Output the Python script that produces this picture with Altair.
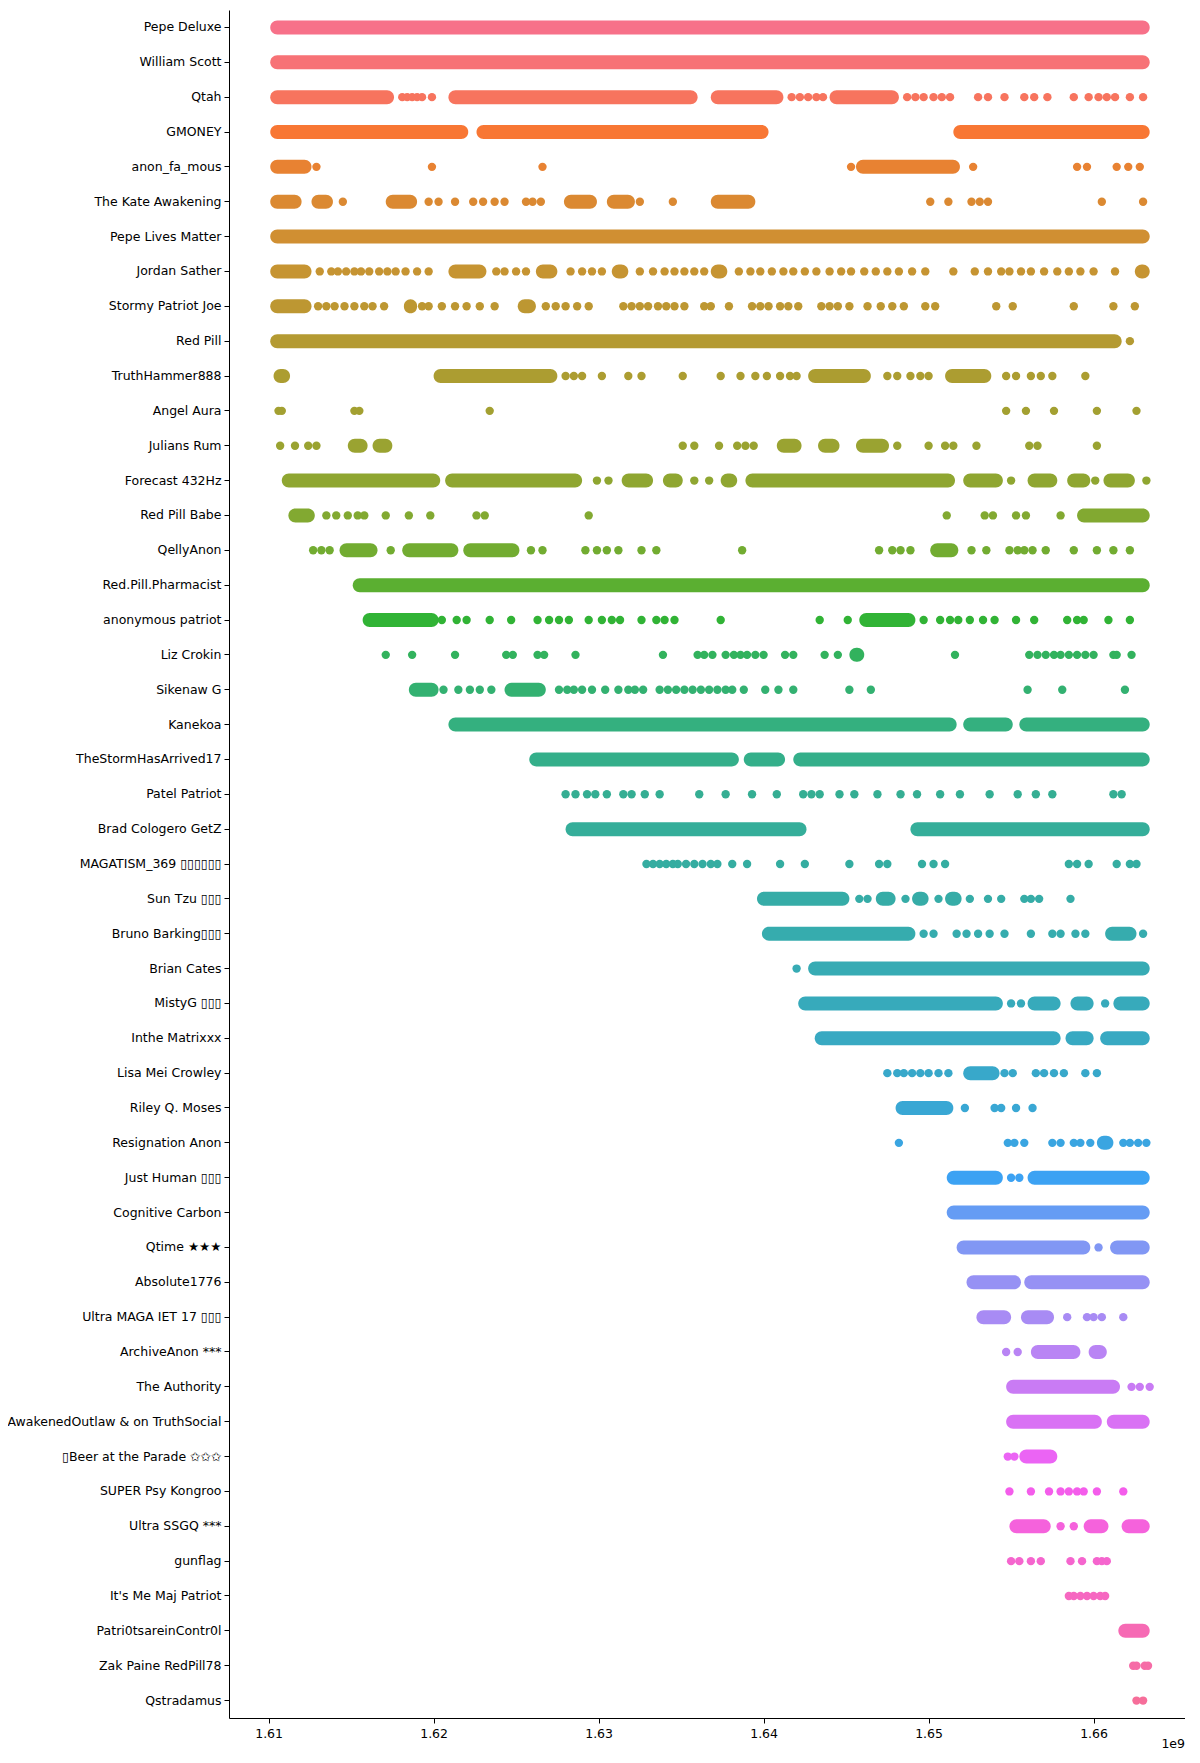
import math
import altair as alt
import pandas as pd

CHANNELS = [
    "Pepe Deluxe", "William Scott", "Qtah", "GMONEY", "anon_fa_mous",
    "The Kate Awakening", "Pepe Lives Matter", "Jordan Sather", "Stormy Patriot Joe",
    "Red Pill", "TruthHammer888", "Angel Aura", "Julians Rum", "Forecast 432Hz",
    "Red Pill Babe", "QellyAnon", "Red.Pill.Pharmacist", "anonymous patriot",
    "Liz Crokin", "Sikenaw G", "Kanekoa", "TheStormHasArrived17", "Patel Patriot",
    "Brad Cologero GetZ", "MAGATISM_369 \u25af\u25af\u25af\u25af\u25af\u25af",
    "Sun Tzu \u25af\u25af\u25af", "Bruno Barking\u25af\u25af\u25af", "Brian Cates",
    "MistyG \u25af\u25af\u25af", "Inthe Matrixxx", "Lisa Mei Crowley", "Riley Q. Moses",
    "Resignation Anon", "Just Human \u25af\u25af\u25af", "Cognitive Carbon",
    "Qtime \u2605\u2605\u2605", "Absolute1776", "Ultra MAGA IET 17 \u25af\u25af\u25af",
    "ArchiveAnon ***", "The Authority", "AwakenedOutlaw & on TruthSocial",
    "\u25afBeer at the Parade \u2729\u2729\u2729", "SUPER Psy Kongroo", "Ultra SSGQ ***",
    "gunflag", "It's Me Maj Patriot", "Patri0tsareinContr0l", "Zak Paine RedPill78",
    "Qstradamus",
]

# dense runs of posts (start, end) per channel, in units of 1e9 seconds
SEGMENTS = [
    [(1.6101, 1.6634)],
    [(1.6101, 1.6634)],
    [(1.6101, 1.6176), (1.6209, 1.6360), (1.6368, 1.6412), (1.6440, 1.6482)],
    [(1.6101, 1.6221), (1.6226, 1.6403), (1.6515, 1.6634)],
    [(1.6101, 1.6126), (1.6456, 1.6519)],
    [(1.6101, 1.6120), (1.6126, 1.6139), (1.6171, 1.6190), (1.6279, 1.6299),
     (1.6305, 1.6322), (1.6368, 1.6395)],
    [(1.6101, 1.6634)],
    [(1.6101, 1.6126), (1.6209, 1.6232), (1.6262, 1.6275), (1.6308, 1.6318),
     (1.6368, 1.6378), (1.6625, 1.6634)],
    [(1.6101, 1.6126), (1.6182, 1.6190), (1.6251, 1.6262)],
    [(1.6101, 1.6617)],
    [(1.6103, 1.6113), (1.6200, 1.6275), (1.6427, 1.6465), (1.6510, 1.6538)],
    [],
    [(1.6148, 1.6160), (1.6163, 1.6175), (1.6408, 1.6423), (1.6433, 1.6446),
     (1.6456, 1.6476)],
    [(1.6108, 1.6204), (1.6207, 1.6290), (1.6314, 1.6333), (1.6339, 1.6351),
     (1.6374, 1.6384), (1.6389, 1.6516), (1.6521, 1.6545), (1.6560, 1.6578),
     (1.6584, 1.6598), (1.6606, 1.6625)],
    [(1.6112, 1.6128), (1.6590, 1.6634)],
    [(1.6143, 1.6166), (1.6181, 1.6215), (1.6218, 1.6252), (1.6501, 1.6518)],
    [(1.6151, 1.6634)],
    [(1.6157, 1.6203), (1.6458, 1.6492)],
    [(1.6452, 1.6461)],
    [(1.6185, 1.6203), (1.6243, 1.6268)],
    [(1.6209, 1.6517), (1.6521, 1.6551), (1.6555, 1.6634)],
    [(1.6258, 1.6385), (1.6388, 1.6413), (1.6418, 1.6634)],
    [],
    [(1.6280, 1.6426), (1.6489, 1.6634)],
    [],
    [(1.6396, 1.6452), (1.6468, 1.6480), (1.6490, 1.6500), (1.6510, 1.6520)],
    [(1.6399, 1.6492), (1.6607, 1.6626)],
    [(1.6427, 1.6634)],
    [(1.6421, 1.6545), (1.6560, 1.6580), (1.6586, 1.6600), (1.6612, 1.6634)],
    [(1.6431, 1.6580), (1.6583, 1.6600), (1.6604, 1.6634)],
    [(1.6521, 1.6543)],
    [(1.6480, 1.6515)],
    [(1.6602, 1.6612)],
    [(1.6511, 1.6545), (1.6560, 1.6634)],
    [(1.6511, 1.6634)],
    [(1.6517, 1.6598), (1.6610, 1.6634)],
    [(1.6523, 1.6556), (1.6558, 1.6634)],
    [(1.6529, 1.6550), (1.6556, 1.6576)],
    [(1.6562, 1.6592), (1.6597, 1.6608)],
    [(1.6547, 1.6616)],
    [(1.6547, 1.6605), (1.6608, 1.6634)],
    [(1.6555, 1.6578)],
    [],
    [(1.6549, 1.6574), (1.6594, 1.6609), (1.6617, 1.6634)],
    [],
    [],
    [(1.6615, 1.6634)],
    [],
    [],
]

# single, scattered posts per channel, in units of 1e9 seconds
POINTS = [
    [],
    [],
    [1.6181, 1.6184, 1.6187, 1.6190, 1.6193, 1.6199,
     1.6417, 1.6422, 1.6427, 1.6432, 1.6436, 1.6487, 1.6492, 1.6497, 1.6503,
     1.6508, 1.6513, 1.6530, 1.6536, 1.6546, 1.6558, 1.6564, 1.6572, 1.6588, 1.6597,
     1.6603, 1.6608, 1.6613, 1.6622, 1.6630],
    [],
    [1.6129, 1.6199, 1.6266, 1.6453, 1.6527, 1.6590, 1.6596, 1.6614, 1.6621, 1.6628],
    [1.6145, 1.6197, 1.6203, 1.6213, 1.6224, 1.6230, 1.6237, 1.6243, 1.6256, 1.6260,
     1.6265, 1.6325, 1.6345, 1.6501, 1.6512, 1.6526, 1.6531, 1.6536, 1.6605, 1.6630],
    [],
    [1.6131, 1.6138, 1.6142, 1.6147, 1.6152, 1.6156, 1.6161, 1.6167, 1.6172, 1.6177,
     1.6183, 1.6190, 1.6197, 1.6238, 1.6243, 1.6250, 1.6256, 1.6283, 1.6290, 1.6296,
     1.6302, 1.6325, 1.6333, 1.6340, 1.6346, 1.6352, 1.6358, 1.6364, 1.6385, 1.6392,
     1.6398, 1.6405, 1.6412, 1.6418, 1.6425, 1.6432, 1.6440, 1.6447, 1.6453, 1.6461,
     1.6468, 1.6475, 1.6482, 1.6490, 1.6498, 1.6515, 1.6528, 1.6536, 1.6544, 1.6549,
     1.6556, 1.6562, 1.6570, 1.6578, 1.6585, 1.6592, 1.6600, 1.6613],
    [1.6130, 1.6135, 1.6140, 1.6146, 1.6152, 1.6158, 1.6163, 1.6170, 1.6193, 1.6197,
     1.6205, 1.6213, 1.6220, 1.6228, 1.6237, 1.6268, 1.6274, 1.6280, 1.6287, 1.6294,
     1.6315, 1.6320, 1.6325, 1.6330, 1.6336, 1.6341, 1.6346, 1.6352, 1.6364, 1.6368,
     1.6379, 1.6393, 1.6398, 1.6403, 1.6410, 1.6415, 1.6421, 1.6435, 1.6440, 1.6445,
     1.6452, 1.6463, 1.6471, 1.6478, 1.6485, 1.6498, 1.6504, 1.6541, 1.6551, 1.6588,
     1.6612, 1.6625],
    [1.6622],
    [1.6280, 1.6285, 1.6290, 1.6302, 1.6318, 1.6326, 1.6351, 1.6374, 1.6386, 1.6395,
     1.6402, 1.6410, 1.6416, 1.6420, 1.6475, 1.6481, 1.6489, 1.6495, 1.6500, 1.6547,
     1.6553, 1.6562, 1.6568, 1.6575, 1.6595],
    [1.6106, 1.6108, 1.6152, 1.6155, 1.6234, 1.6547, 1.6559, 1.6576, 1.6602, 1.6626],
    [1.6107, 1.6116, 1.6124, 1.6129, 1.6351, 1.6358, 1.6373, 1.6384, 1.6389, 1.6394,
     1.6481, 1.6500, 1.6510, 1.6515, 1.6529, 1.6561, 1.6566, 1.6602],
    [1.6299, 1.6306, 1.6358, 1.6367, 1.6550, 1.6601, 1.6632],
    [1.6135, 1.6141, 1.6148, 1.6154, 1.6158, 1.6171, 1.6185, 1.6198, 1.6226, 1.6231,
     1.6294, 1.6511, 1.6534, 1.6539, 1.6553, 1.6559, 1.6580],
    [1.6127, 1.6132, 1.6137, 1.6174, 1.6259, 1.6266, 1.6292, 1.6299, 1.6305, 1.6312,
     1.6326, 1.6335, 1.6387, 1.6470, 1.6478, 1.6483, 1.6489, 1.6526, 1.6535, 1.6549,
     1.6554, 1.6558, 1.6563, 1.6571, 1.6588, 1.6602, 1.6612, 1.6622],
    [],
    [1.6205, 1.6214, 1.6220, 1.6234, 1.6247, 1.6263, 1.6270, 1.6276, 1.6282, 1.6294,
     1.6302, 1.6308, 1.6313, 1.6326, 1.6335, 1.6340, 1.6346, 1.6374, 1.6434, 1.6451,
     1.6497, 1.6507, 1.6513, 1.6518, 1.6525, 1.6533, 1.6540, 1.6553, 1.6564, 1.6584,
     1.6590, 1.6594, 1.6609, 1.6622],
    [1.6171, 1.6187, 1.6213, 1.6244, 1.6248, 1.6263, 1.6267, 1.6286, 1.6339, 1.6360,
     1.6364, 1.6369, 1.6377, 1.6382, 1.6386, 1.6390, 1.6395, 1.6400, 1.6413, 1.6418,
     1.6437, 1.6445, 1.6516, 1.6561, 1.6566, 1.6571, 1.6576, 1.6580, 1.6585, 1.6590,
     1.6595, 1.6600, 1.6612, 1.6614, 1.6623],
    [1.6206, 1.6215, 1.6222, 1.6228, 1.6235, 1.6276, 1.6281, 1.6285, 1.6290, 1.6296,
     1.6304, 1.6312, 1.6318, 1.6322, 1.6327, 1.6337, 1.6342, 1.6347, 1.6352, 1.6357,
     1.6362, 1.6367, 1.6372, 1.6377, 1.6381, 1.6388, 1.6401, 1.6409, 1.6418, 1.6452,
     1.6465, 1.6560, 1.6581, 1.6619],
    [],
    [],
    [1.6280, 1.6286, 1.6293, 1.6298, 1.6305, 1.6315, 1.6320, 1.6328, 1.6337, 1.6361,
     1.6377, 1.6393, 1.6408, 1.6424, 1.6429, 1.6434, 1.6446, 1.6455, 1.6469, 1.6483,
     1.6493, 1.6507, 1.6519, 1.6537, 1.6554, 1.6565, 1.6575, 1.6612, 1.6617],
    [],
    [1.6329, 1.6333, 1.6337, 1.6341, 1.6345, 1.6348, 1.6353, 1.6358, 1.6363, 1.6368,
     1.6372, 1.6381, 1.6390, 1.6410, 1.6425, 1.6452, 1.6470, 1.6475, 1.6496, 1.6503,
     1.6510, 1.6585, 1.6590, 1.6597, 1.6614, 1.6622, 1.6626],
    [1.6458, 1.6463, 1.6486, 1.6506, 1.6525, 1.6536, 1.6544, 1.6558, 1.6562, 1.6567,
     1.6586],
    [1.6497, 1.6503, 1.6517, 1.6523, 1.6530, 1.6537, 1.6546, 1.6562, 1.6575, 1.6580,
     1.6589, 1.6595, 1.6630],
    [1.6420],
    [1.6550, 1.6556, 1.6607],
    [],
    [1.6475, 1.6481, 1.6485, 1.6490, 1.6495, 1.6500, 1.6506, 1.6512, 1.6546, 1.6551,
     1.6565, 1.6570, 1.6576, 1.6582, 1.6595, 1.6602],
    [1.6522, 1.6540, 1.6544, 1.6553, 1.6563],
    [1.6482, 1.6548, 1.6552, 1.6558, 1.6575, 1.6580, 1.6588, 1.6592, 1.6598, 1.6618,
     1.6622, 1.6627, 1.6632],
    [1.6550, 1.6555],
    [],
    [1.6603],
    [],
    [1.6584, 1.6596, 1.6600, 1.6605, 1.6618],
    [1.6547, 1.6554],
    [1.6623, 1.6628, 1.6634],
    [],
    [1.6548, 1.6552],
    [1.6549, 1.6562, 1.6573, 1.6580, 1.6585, 1.6590, 1.6594, 1.6602, 1.6618],
    [1.6580, 1.6588],
    [1.6550, 1.6555, 1.6562, 1.6568, 1.6586, 1.6593, 1.6602, 1.6605, 1.6608],
    [1.6585, 1.6588, 1.6592, 1.6596, 1.6600, 1.6604, 1.6607],
    [],
    [1.6624, 1.6626, 1.6631, 1.6633],
    [1.6626, 1.6630],
]

X_TICKS = [1.61, 1.62, 1.63, 1.64, 1.65, 1.66]
X_DOMAIN = [1.6076, 1.66554]
OFFSET_TEXT = ["1e9"]

# ---- seaborn husl palette -------------------------------------------------
_M = [[3.2406, -1.5372, -0.4986], [-0.9689, 1.8758, 0.0415], [0.0557, -0.2040, 1.0570]]
_REF_U, _REF_V = 0.19784, 0.46834
_LAB_E, _LAB_K = 0.008856, 903.3


def _max_chroma(L, H):
    hrad = math.radians(H)
    sinH, cosH = math.sin(hrad), math.cos(hrad)
    sub1 = (L + 16) ** 3 / 1560896.0
    sub2 = sub1 if sub1 > _LAB_E else L / _LAB_K
    result = float("inf")
    for m1, m2, m3 in _M:
        top = (0.99915 * m1 + 1.05122 * m2 + 1.14460 * m3) * sub2
        rbottom = 0.86330 * m3 - 0.17266 * m2
        lbottom = 0.12949 * m3 - 0.38848 * m1
        bottom = (rbottom * sinH + lbottom * cosH) * sub2
        for t in (0.0, 1.0):
            C = L * (top - 1.05122 * t) / (bottom + 0.17266 * sinH * t)
            if 0.0 < C < result:
                result = C
    return result


def _f_inv(t):
    return t ** 3 if t ** 3 > _LAB_E else (116.0 * t - 16.0) / _LAB_K


def _from_linear(c):
    return 12.92 * c if c <= 0.0031308 else 1.055 * c ** (1 / 2.4) - 0.055


def husl_to_hex(h, s, l):
    C = _max_chroma(l, h) / 100.0 * s
    hrad = math.radians(h)
    U, V = math.cos(hrad) * C, math.sin(hrad) * C
    varY = _f_inv((l + 16.0) / 116.0)
    varU = U / (13.0 * l) + _REF_U
    varV = V / (13.0 * l) + _REF_V
    Y = varY
    X = 0.0 - (9.0 * Y * varU) / ((varU - 4.0) * varV - varU * varV)
    Z = (9.0 * Y - 15.0 * varV * Y - varV * X) / (3.0 * varV)
    rgb = []
    for row in _M:
        v = _from_linear(row[0] * X + row[1] * Y + row[2] * Z)
        rgb.append(min(max(v, 0.0), 1.0))
    return "#" + "".join("%02x" % int(round(c * 255)) for c in rgb)


n = len(CHANNELS)
COLORS = []
for i in range(n):
    hue = ((i / n) + 0.01) % 1 * 359
    COLORS.append(husl_to_hex(hue, 0.9 * 99, 0.65 * 99))

# ---- tables ---------------------------------------------------------------
seg_rows = []
for name, segs in zip(CHANNELS, SEGMENTS):
    for a, b in segs:
        seg_rows.append({"channel": name, "start": a, "end": b})
pt_rows = []
for name, pts in zip(CHANNELS, POINTS):
    for v in pts:
        pt_rows.append({"channel": name, "t": v})
seg_df = pd.DataFrame(seg_rows)
pt_df = pd.DataFrame(pt_rows)

W, H = 956, 1708
FONT = "DejaVu Sans"

xscale = alt.Scale(domain=X_DOMAIN, nice=False, zero=False)
yscale = alt.Scale(domain=CHANNELS, paddingInner=0, paddingOuter=0)
cscale = alt.Scale(domain=CHANNELS, range=COLORS)

xaxis = alt.Axis(title=None, values=X_TICKS, format=".2f", grid=False,
                 labelFont=FONT, labelFontSize=12.5, labelColor="black",
                 tickColor="black", domainColor="black", tickSize=5,
                 labelPadding=4, labelFlush=False)
yaxis = alt.Axis(title=None, grid=False, labelFont=FONT, labelFontSize=12.5,
                 labelColor="black", tickColor="black", domainColor="black",
                 tickSize=5, labelPadding=3, labelLimit=400, bandPosition=0.5)

bars = alt.Chart(seg_df).mark_bar(size=14, cornerRadius=7, opacity=1).encode(
    x=alt.X("start:Q", scale=xscale, axis=xaxis),
    x2="end:Q",
    y=alt.Y("channel:N", scale=yscale, axis=yaxis, sort=CHANNELS),
    color=alt.Color("channel:N", scale=cscale, legend=None),
)

dots = alt.Chart(pt_df).mark_circle(size=70, opacity=1).encode(
    x=alt.X("t:Q", scale=xscale),
    y=alt.Y("channel:N", scale=yscale, sort=CHANNELS),
    color=alt.Color("channel:N", scale=cscale, legend=None),
)

offset = alt.Chart(pd.DataFrame({"txt": OFFSET_TEXT})).mark_text(
    align="right", baseline="middle", font=FONT, fontSize=12.5, color="black"
).encode(x=alt.value(W), y=alt.value(H + 26), text="txt:N")

chart = alt.layer(bars, dots, offset).properties(
    width=W, height=H,
    autosize=alt.AutoSizeParams(type="none"),
    padding={"left": 221, "top": 2, "right": 0, "bottom": 34},
    background="white",
).configure_view(strokeWidth=0)

chart.save("out.html", embed_options={"renderer": "svg", "actions": False})
